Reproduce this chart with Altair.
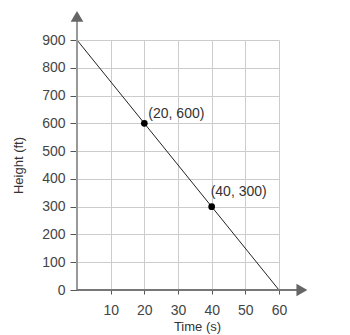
import altair as alt
import pandas as pd

# Data
time_s = [0, 20, 40, 60]
height_ft = [900, 600, 300, 0]
pt_time = [20, 40]
pt_height = [600, 300]
pt_label = ["(20, 600)", "(40, 300)"]
x_ticks = [10, 20, 30, 40, 50, 60]
y_ticks = [0, 100, 200, 300, 400, 500, 600, 700, 800, 900]

FONT = "Liberation Sans"

line_df = pd.DataFrame({"t": time_s, "h": height_ft})
pt_df = pd.DataFrame({"t": pt_time, "h": pt_height, "label": pt_label})

xs = alt.Scale(domain=[0, 60], nice=False, zero=False)
ys = alt.Scale(domain=[0, 900], nice=False, zero=False)

x_axis = alt.Axis(values=x_ticks, title="Time (s)", grid=True, gridColor="#cccccc",
                  domain=False, tickSize=4, tickColor="#555555", labelPadding=9,
                  labelOverlap=False, labelFlush=False, labelBound=False,
                  labelFontSize=14, labelColor="#444444", labelFont=FONT,
                  titleFont=FONT, titleFontSize=13, titleFontWeight="normal",
                  titleColor="#333333", titleX=120, titleY=36, titleBaseline="middle")
y_axis = alt.Axis(values=y_ticks, title="Height (ft)", grid=True, gridColor="#cccccc",
                  domain=False, tickSize=7, tickColor="#555555", labelPadding=5,
                  labelOverlap=False, labelFlush=False, labelBound=False,
                  labelFontSize=14, labelColor="#444444", labelFont=FONT,
                  titleFont=FONT, titleFontSize=13, titleFontWeight="normal",
                  titleColor="#333333", titleX=-59, titleY=125, titleBaseline="middle")


def X(f):
    return alt.X(f, type="quantitative", scale=xs, axis=x_axis)


def Y(f):
    return alt.Y(f, type="quantitative", scale=ys, axis=y_axis)


# axis lines with arrows
yaxis_df = pd.DataFrame({"x": [0], "y0": [0], "y1": [975]})
xaxis_df = pd.DataFrame({"y": [0], "x0": [0], "x1": [66]})
y_rule = alt.Chart(yaxis_df).mark_rule(color="#999999", strokeWidth=2).encode(
    x=X("x"), y=Y("y0"), y2="y1:Q")
x_rule = alt.Chart(xaxis_df).mark_rule(color="#777777", strokeWidth=2).encode(
    y=Y("y"), x=X("x0"), x2="x1:Q")

y_arrow = alt.Chart(pd.DataFrame({"x": [0], "y": [985]})).mark_point(
    shape="triangle-up", filled=True, color="#666666", size=160, opacity=1).encode(
    x=X("x"), y=Y("y"))
x_arrow = alt.Chart(pd.DataFrame({"x": [66.8], "y": [0]})).mark_point(
    shape="triangle-right", filled=True, color="#666666", size=160, opacity=1).encode(
    x=X("x"), y=Y("y"))

line = alt.Chart(line_df).mark_line(color="#222222", strokeWidth=1).encode(
    x=X("t"), y=Y("h"))

points = alt.Chart(pt_df).mark_point(filled=True, color="#000000", size=45, opacity=1).encode(
    x=X("t"), y=Y("h"))

lbl1 = alt.Chart(pt_df.iloc[[0]]).mark_text(align="left", baseline="middle", dx=4, dy=-9,
    font=FONT, fontSize=14, color="#333333").encode(
    x=X("t"), y=Y("h"), text="label:N")
lbl2 = alt.Chart(pt_df.iloc[[1]]).mark_text(align="left", baseline="middle", dx=-1, dy=-15,
    font=FONT, fontSize=14, color="#333333").encode(
    x=X("t"), y=Y("h"), text="label:N")

chart = alt.layer(line, y_rule, x_rule, y_arrow, x_arrow, points, lbl1, lbl2).properties(
    width=202, height=250,
    autosize=alt.AutoSizeParams(type="none"),
    padding={"left": 77, "top": 40, "right": 71, "bottom": 45},
    background="white",
).configure_view(stroke=None)

chart.save("out.html", embed_options={"renderer": "svg", "actions": False})
